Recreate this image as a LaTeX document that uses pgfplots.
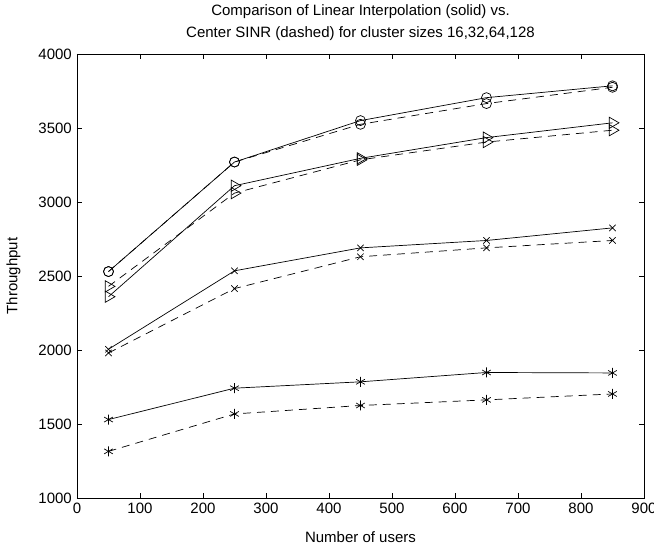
\documentclass[border=0pt]{standalone}
\usepackage{pgfplots}
\pgfplotsset{compat=1.18}
\usepackage{fontspec}
\setmainfont{Liberation Sans}
\begin{document}
\fontsize{15}{20}\selectfont
\begin{tikzpicture}
\begin{axis}[
  scale only axis,
  width=567pt, height=444pt,
  xmin=0, xmax=900, ymin=1000, ymax=4000,
  xtick={0,100,...,900},
  ytick={1000,1500,...,4000},
  tick align=inside,
  major tick length=5pt,
  tick style={black, line width=0.6pt},
  axis line style={black, line width=0.8pt},
  /pgf/number format/assume math mode=true,
  /pgf/number format/1000 sep={},
  tick label style={font=\fontsize{15}{18}\selectfont},
  title={Comparison of Linear Interpolation (solid) vs.\\[2pt]Center SINR (dashed) for cluster sizes 16,32,64,128},
  title style={align=center, font=\fontsize{15}{20}\selectfont, at={(axis description cs:0.5,1.004)}, anchor=south},
  xlabel={Number of users},
  xlabel style={at={(axis description cs:0.5,-0.1)}, anchor=base},
  ylabel={Throughput},
  ylabel style={at={(axis description cs:-0.112,0.5)}, anchor=center},
  every axis plot/.append style={black, line width=0.7pt},
  mydash/.style={dash pattern=on 8pt off 6pt},
]
% circles
\addplot[mark=o, mark size=5pt, mark options={solid}] coordinates {(50,2530) (250,3270) (450,3550) (650,3705) (850,3785)};
\addplot[mydash, mark=o, mark size=5pt, mark options={solid}] coordinates {(50,2530) (250,3270) (450,3525) (650,3665) (850,3775)};
% triangles
\addplot[mark=triangle, mark size=6.5pt, mark options={solid, rotate=-90}] coordinates {(50,2360) (250,3110) (450,3295) (650,3435) (850,3535)};
\addplot[mydash, mark=triangle, mark size=6.5pt, mark options={solid, rotate=-90}] coordinates {(50,2430) (250,3060) (450,3285) (650,3405) (850,3485)};
% x marks
\addplot[mark=x, mark size=4.5pt, mark options={solid}] coordinates {(50,2005) (250,2535) (450,2690) (650,2740) (850,2825)};
\addplot[mydash, mark=x, mark size=4.5pt, mark options={solid}] coordinates {(50,1980) (250,2415) (450,2630) (650,2690) (850,2740)};
% asterisks
\addplot[mark=asterisk, mark size=5pt, mark options={solid}] coordinates {(50,1530) (250,1742) (450,1785) (650,1848) (850,1845)};
\addplot[mydash, mark=asterisk, mark size=5pt, mark options={solid}] coordinates {(50,1315) (250,1568) (450,1625) (650,1663) (850,1703)};
\end{axis}
\pgfresetboundingbox
\useasboundingbox (-77pt,-50pt) rectangle (577pt,498pt);
\end{tikzpicture}
\end{document}
